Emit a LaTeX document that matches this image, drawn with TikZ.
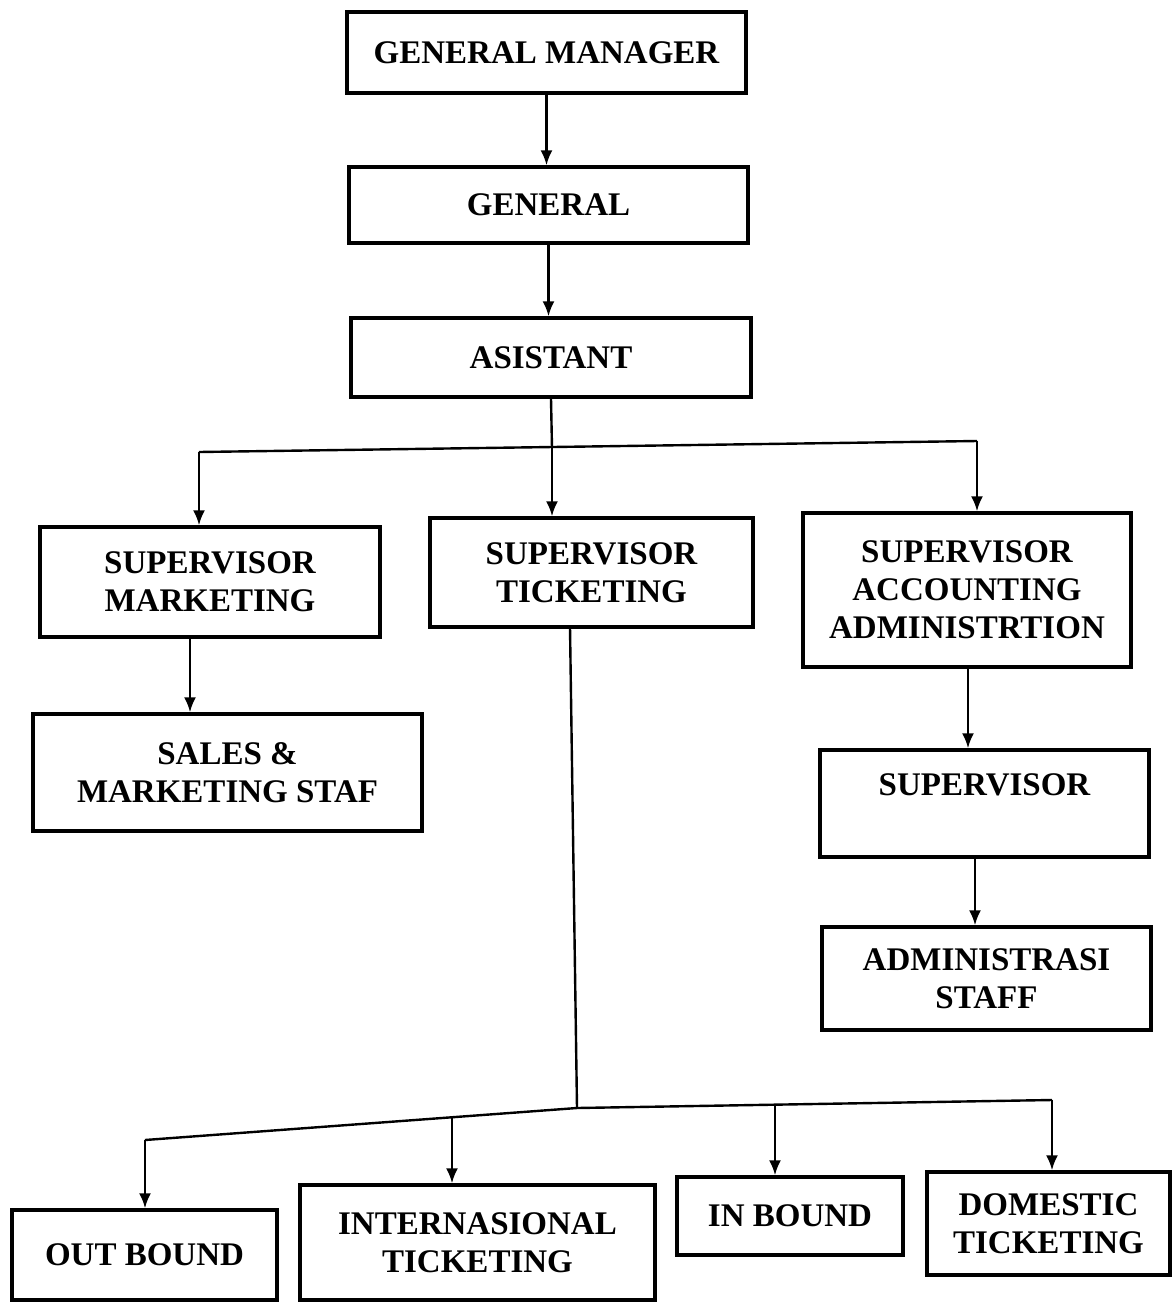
\documentclass[tikz,border=0pt]{standalone}
\usepackage{fontspec}
\setmainfont{Liberation Serif}
\usetikzlibrary{arrows.meta}
\begin{document}
\begin{tikzpicture}[x=1pt,y=-1pt,
  box/.style={draw=black, line width=3.4pt, fill=white, rectangle, inner sep=0pt, align=center,
    font=\fontsize{33}{38}\selectfont\bfseries},
  conn/.style={draw=black, line width=2.4pt},
  arr/.style={conn, -{Latex[length=15pt,width=12pt]}}
]
\useasboundingbox (0,0) rectangle (1173,1302);
\fill[white] (0,0) rectangle (1173,1302);

% boxes
\node[box, minimum width=399pt, minimum height=81pt] (gm) at (546.5,52.5) {GENERAL MANAGER};
\node[box, minimum width=399pt, minimum height=76pt] (gen) at (548.5,205) {GENERAL};
\node[box, minimum width=400pt, minimum height=79pt] (asis) at (551,357.5) {ASISTANT};
\node[box, minimum width=340pt, minimum height=110pt] (supm) at (210,582) {SUPERVISOR\\MARKETING};
\node[box, minimum width=323pt, minimum height=109pt] (supt) at (591.5,572.5) {SUPERVISOR\\TICKETING};
\node[box, minimum width=328pt, minimum height=154pt] (supa) at (967,590) {SUPERVISOR\\ACCOUNTING\\ADMINISTRTION};
\node[box, minimum width=389pt, minimum height=117pt] (sales) at (227.5,772.5) {SALES \&\\MARKETING STAF};
\node[box, minimum width=329pt, minimum height=107pt] (sup) at (984.5,803.5) {SUPERVISOR\\~};
\node[box, minimum width=329pt, minimum height=103pt] (admin) at (986.5,978.5) {ADMINISTRASI\\STAFF};
\node[box, minimum width=265pt, minimum height=90pt] (ob) at (144.5,1255) {OUT BOUND};
\node[box, minimum width=355pt, minimum height=115pt] (intl) at (477.5,1242.5) {INTERNASIONAL\\TICKETING};
\node[box, minimum width=226pt, minimum height=78pt] (inb) at (790,1216) {IN BOUND};
\node[box, minimum width=243pt, minimum height=103pt] (dom) at (1048.5,1223.5) {DOMESTIC\\TICKETING};

% top chain
\draw[arr] (gm.south) -- (gm.south |- gen.north);
\draw[arr] (gen.south) -- (gen.south |- asis.north);

% assistant bus
\coordinate (aj) at (552,448);
\coordinate (al) at (199,452);
\coordinate (ar) at (977,441);
\draw[conn] (asis.south) -- (aj);
\draw[conn] (al) -- (ar);
\draw[arr] (al) -- (al |- supm.north);
\draw[arr] (aj) -- (aj |- supt.north);
\draw[arr] (ar) -- (ar |- supa.north);

% left and right chains
\draw[arr] ([xshift=-20pt]supm.south) -- ([xshift=-37.5pt]sales.north);
\draw[arr] ([xshift=1pt]supa.south) -- ([xshift=-16.5pt]sup.north);
\draw[arr] ([xshift=-9.5pt]sup.south) -- ([xshift=-11.5pt]admin.north);

% ticketing bus
\coordinate (ts) at (570,627);
\coordinate (tj) at (577,1108);
\coordinate (tl) at (145,1140);
\coordinate (tr) at (1052,1100);
\coordinate (t2) at (452,1117);
\coordinate (t3) at (775,1105);
\draw[conn] (ts) -- (tj);
\draw[conn] (tl) -- (tj) -- (tr);
\draw[arr] (tl) -- (tl |- ob.north);
\draw[arr] (t2) -- (t2 |- intl.north);
\draw[arr] (t3) -- (t3 |- inb.north);
\draw[arr] (tr) -- (tr |- dom.north);
\end{tikzpicture}
\end{document}
